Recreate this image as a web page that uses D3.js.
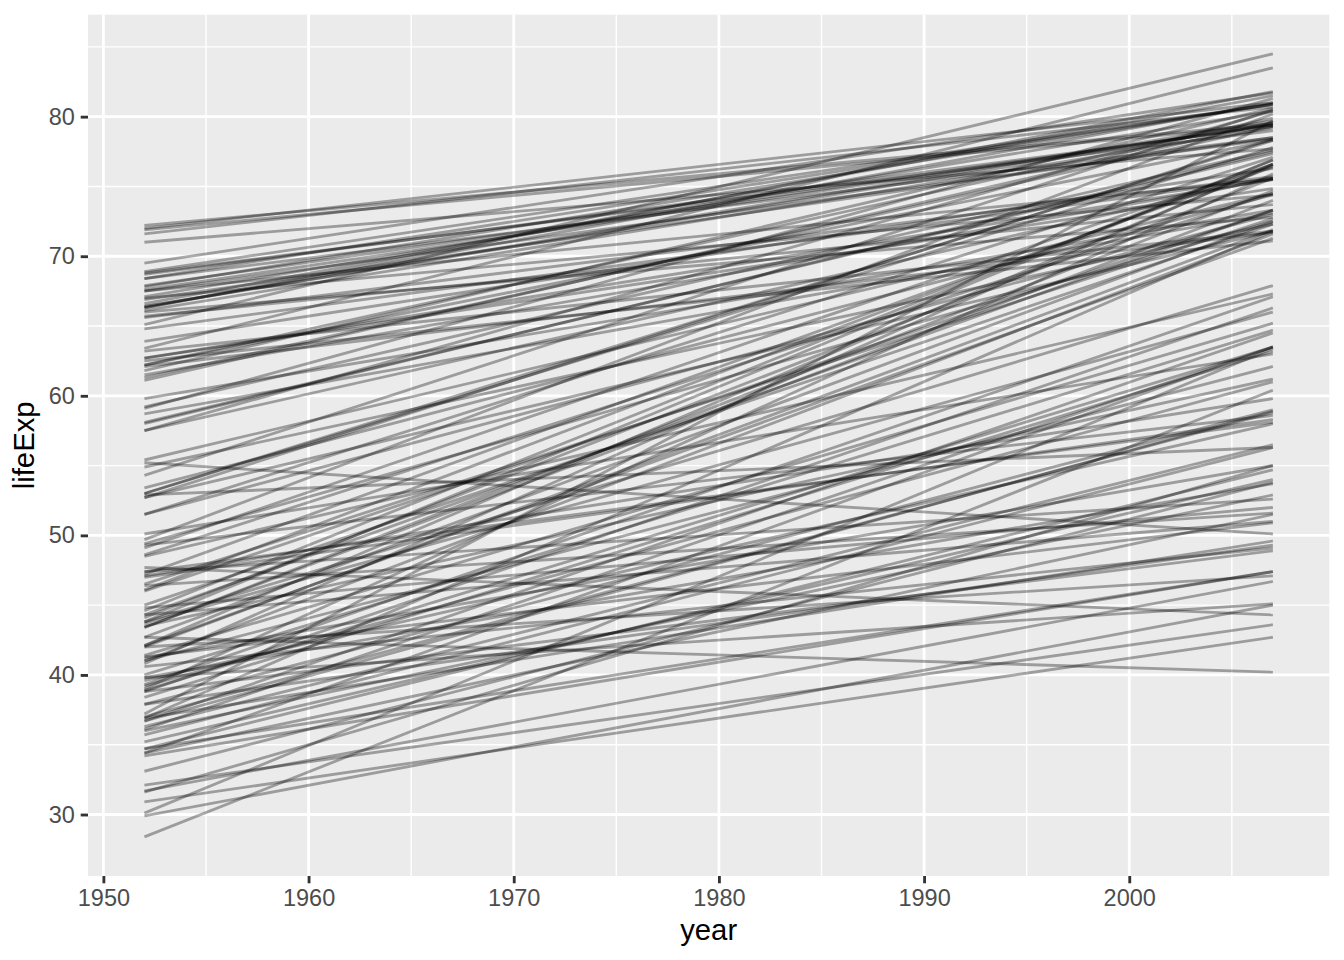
<!DOCTYPE html>
<html>
<head>
<meta charset="utf-8">
<script src="https://cdn.jsdelivr.net/npm/d3@7"></script>
<style>
  html, body { margin: 0; padding: 0; background: #fff; }
  svg { display: block; }
  text { font-family: "Liberation Sans", Arial, Helvetica, sans-serif; }
</style>
</head>
<body>
<svg id="chart" width="1344" height="960"></svg>
<script>
// Linear-fit life expectancy per country: fitted value at 1952 and at 2007
const countries = ["Afghanistan","Albania","Algeria","Angola","Argentina","Australia","Austria","Bahrain","Bangladesh","Belgium","Benin","Bolivia","Bosnia and Herzegovina","Botswana","Brazil","Bulgaria","Burkina Faso","Burundi","Cambodia","Cameroon","Canada","Central African Republic","Chad","Chile","China","Colombia","Comoros","Congo, Dem. Rep.","Congo, Rep.","Costa Rica","Cote d'Ivoire","Croatia","Cuba","Czech Republic","Denmark","Djibouti","Dominican Republic","Ecuador","Egypt","El Salvador","Equatorial Guinea","Eritrea","Ethiopia","Finland","France","Gabon","Gambia","Germany","Ghana","Greece","Guatemala","Guinea","Guinea-Bissau","Haiti","Honduras","Hong Kong, China","Hungary","Iceland","India","Indonesia","Iran","Iraq","Ireland","Israel","Italy","Jamaica","Japan","Jordan","Kenya","Korea, Dem. Rep.","Korea, Rep.","Kuwait","Lebanon","Lesotho","Liberia","Libya","Madagascar","Malawi","Malaysia","Mali","Mauritania","Mauritius","Mexico","Mongolia","Montenegro","Morocco","Mozambique","Myanmar","Namibia","Nepal","Netherlands","New Zealand","Nicaragua","Niger","Nigeria","Norway","Oman","Pakistan","Panama","Paraguay","Peru","Philippines","Poland","Portugal","Puerto Rico","Reunion","Romania","Rwanda","Sao Tome and Principe","Saudi Arabia","Senegal","Serbia","Sierra Leone","Singapore","Slovak Republic","Slovenia","Somalia","South Africa","Spain","Sri Lanka","Sudan","Swaziland","Sweden","Switzerland","Syria","Taiwan","Tanzania","Thailand","Togo","Trinidad and Tobago","Tunisia","Turkey","Uganda","United Kingdom","United States","Uruguay","Venezuela","Vietnam","West Bank and Gaza","Yemen, Rep.","Zambia","Zimbabwe"];

const lifeExp1952 = [29.9,59.2,43.4,32.1,62.7,68.4,66.4,52.7,36.1,67.9,39.6,38.8,58.1,52.9,51.5,65.7,34.7,40.6,37.0,41.2,68.9,38.8,39.8,54.3,47.2,53.4,38.4,42.0,47.4,59.1,44.8,63.9,62.2,67.5,71.0,36.3,48.6,49.1,41.0,46.5,34.4,35.7,36.0,66.4,67.8,38.9,28.4,67.6,43.5,67.1,42.1,31.6,31.7,39.2,42.0,63.4,66.0,72.0,39.3,36.9,45.0,50.1,67.5,66.3,66.6,62.7,65.1,44.1,47.0,54.9,49.7,57.5,58.7,47.4,39.8,42.1,36.7,36.9,51.5,33.1,40.0,55.4,53.0,43.8,62.2,42.7,34.2,41.4,47.1,34.4,71.9,68.7,43.4,35.2,37.9,72.2,37.2,43.7,58.0,62.5,44.3,49.4,64.8,61.1,66.9,53.0,63.2,42.7,48.5,40.8,36.7,61.5,30.9,61.8,67.0,66.1,34.7,49.3,66.3,59.8,37.9,46.4,71.6,69.5,46.1,61.3,41.3,52.7,41.0,62.1,44.6,46.0,44.3,68.8,68.4,65.6,57.5,39.0,43.8,30.1,47.7,55.2];

const lifeExp2007 = [45.0,77.6,74.7,43.6,75.5,80.9,79.7,78.4,63.5,79.4,58.0,66.3,77.35,56.3,73.0,73.7,54.7,49.1,58.8,55.0,80.9,48.9,53.7,80.5,76.4,74.4,63.2,47.1,58.1,81.3,52.0,76.3,79.9,75.5,77.7,56.5,74.5,76.6,71.6,72.7,51.5,56.3,52.9,79.5,80.9,63.5,60.4,79.4,61.2,80.4,71.3,55.0,46.7,61.0,71.9,83.5,72.8,81.0,67.1,71.8,72.3,63.0,78.4,81.0,81.5,74.85,84.5,75.6,58.3,72.3,80.2,80.4,73.1,52.6,45.1,76.5,58.9,49.6,77.1,53.8,64.7,74.5,77.8,67.9,78.3,72.5,47.4,65.2,59.8,63.5,79.4,79.3,74.0,54.0,49.3,79.5,79.7,66.0,77.5,71.1,73.3,72.5,75.6,79.6,78.5,78.3,71.8,40.2,67.3,76.6,64.5,75.5,42.7,80.6,74.4,79.2,47.4,58.6,81.8,73.3,59.0,51.6,80.7,81.7,76.6,79.3,50.9,71.8,62.1,71.7,76.9,73.3,51.0,79.0,78.5,75.7,75.65,75.9,76.9,63.4,44.3,50.1];

const years = [1952, 2007];
const xMajor = [1950, 1960, 1970, 1980, 1990, 2000];
const xMinor = [1955, 1965, 1975, 1985, 1995, 2005];
const yMajor = [30, 40, 50, 60, 70, 80];
const yMinor = [35, 45, 55, 65, 75, 85];

const W = 1344, H = 960;
const panel = { left: 88, right: 1329.3, top: 14.7, bottom: 876 };

const svg = d3.select("#chart");

// ggplot-like 5% expansion
function expand(ext) { const r = ext[1] - ext[0]; return [ext[0] - 0.05 * r, ext[1] + 0.05 * r]; }
const yExt = d3.extent(lifeExp1952.concat(lifeExp2007));
const x = d3.scaleLinear().domain(expand(d3.extent(years))).range([panel.left, panel.right]);
const y = d3.scaleLinear().domain(expand(yExt)).range([panel.bottom, panel.top]);

// Panel background
svg.append("rect")
  .attr("x", panel.left).attr("y", panel.top)
  .attr("width", panel.right - panel.left).attr("height", panel.bottom - panel.top)
  .attr("fill", "#EBEBEB");

const grid = svg.append("g");
const inY = v => y(v) >= panel.top && y(v) <= panel.bottom;
const inX = v => x(v) >= panel.left && x(v) <= panel.right;
// minor grid
grid.selectAll(".ymin").data(yMinor.filter(inY)).join("line")
  .attr("x1", panel.left).attr("x2", panel.right)
  .attr("y1", d => y(d)).attr("y2", d => y(d))
  .attr("stroke", "#fff").attr("stroke-width", 1.42);
grid.selectAll(".xmin").data(xMinor.filter(inX)).join("line")
  .attr("y1", panel.top).attr("y2", panel.bottom)
  .attr("x1", d => x(d)).attr("x2", d => x(d))
  .attr("stroke", "#fff").attr("stroke-width", 1.42);
// major grid
grid.selectAll(".ymaj").data(yMajor).join("line")
  .attr("x1", panel.left).attr("x2", panel.right)
  .attr("y1", d => y(d)).attr("y2", d => y(d))
  .attr("stroke", "#fff").attr("stroke-width", 2.85);
grid.selectAll(".xmaj").data(xMajor).join("line")
  .attr("y1", panel.top).attr("y2", panel.bottom)
  .attr("x1", d => x(d)).attr("x2", d => x(d))
  .attr("stroke", "#fff").attr("stroke-width", 2.85);

// Country lines
const lineGen = d3.line().x(d => x(d[0])).y(d => y(d[1]));
const series = countries.map((c, i) => ({ country: c, pts: [[years[0], lifeExp1952[i]], [years[1], lifeExp2007[i]]] }));
svg.append("g").selectAll("path").data(series).join("path")
  .attr("d", d => lineGen(d.pts))
  .attr("fill", "none")
  .attr("stroke", "#000")
  .attr("stroke-opacity", 1 / 3)
  .attr("stroke-width", 2.85);

// Axes
const tickLen = 7.3;
const xAxis = svg.append("g")
  .attr("transform", `translate(0,${panel.bottom})`)
  .call(d3.axisBottom(x).tickValues(xMajor).tickSize(tickLen).tickPadding(5.9).tickFormat(d3.format("d")));
const yAxis = svg.append("g")
  .attr("transform", `translate(${panel.left},0)`)
  .call(d3.axisLeft(y).tickValues(yMajor).tickSize(tickLen).tickPadding(5.9).tickFormat(d3.format("d")));
[xAxis, yAxis].forEach(g => {
  g.select(".domain").remove();
  g.selectAll(".tick line").attr("stroke", "#333333").attr("stroke-width", 2.85);
  g.selectAll(".tick text").attr("fill", "#4D4D4D").style("font-size", "23.5px")
    .style("font-family", '"Liberation Sans", Arial, Helvetica, sans-serif');
});
xAxis.selectAll(".tick text").attr("dy", "0.72em");

// Axis titles
svg.append("text")
  .attr("x", (panel.left + panel.right) / 2).attr("y", 940)
  .attr("text-anchor", "middle").attr("fill", "#000")
  .style("font-size", "29.3px").text("year");
svg.append("text")
  .attr("transform", `translate(34,${(panel.top + panel.bottom) / 2}) rotate(-90)`)
  .attr("text-anchor", "middle").attr("fill", "#000")
  .style("font-size", "29.3px").text("lifeExp");
</script>
</body>
</html>
